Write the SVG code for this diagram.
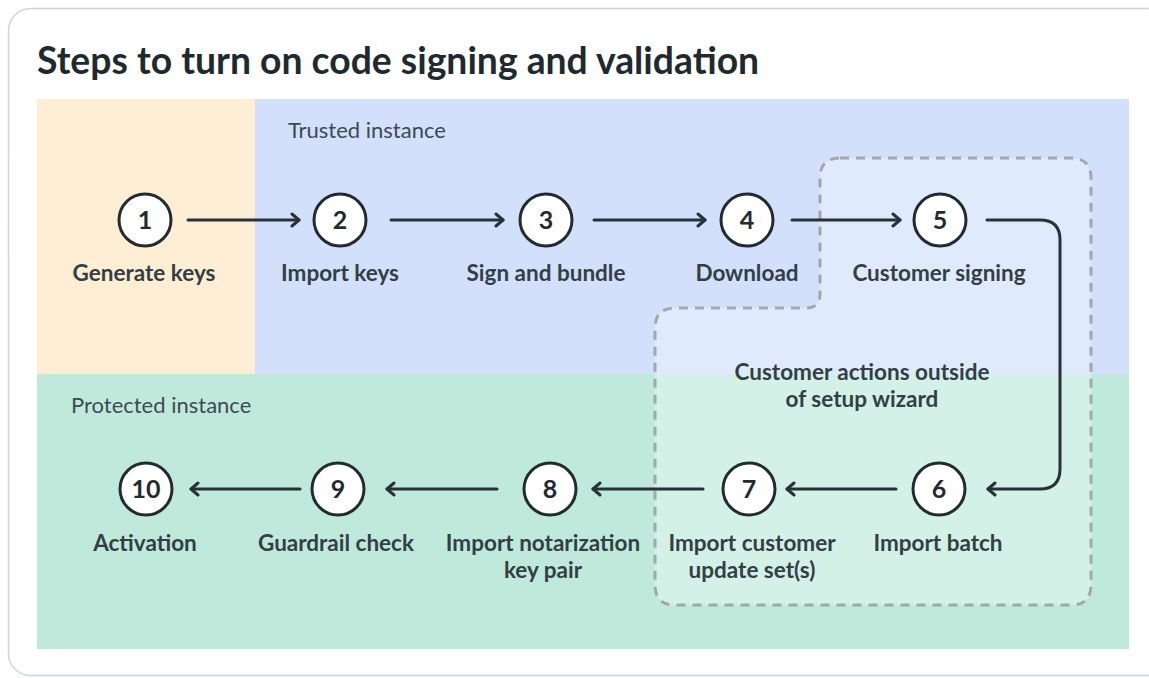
<svg xmlns="http://www.w3.org/2000/svg" width="1149" height="678" viewBox="0 0 1149 678">
<defs>
<style>
.lbl{font-family:Lato,"Liberation Sans",sans-serif;font-weight:700;font-size:22.5px;fill:#323f45;text-anchor:middle}
.num{font-family:Lato,"Liberation Sans",sans-serif;font-weight:700;font-size:25px;fill:#222c30;text-anchor:middle}
.reg{font-family:Lato,"Liberation Sans",sans-serif;font-size:22px;fill:#3d4a50}
.c{fill:#fff;stroke:#222c30;stroke-width:3}
.e{fill:none;stroke:#263238;stroke-width:3;stroke-linecap:round;stroke-linejoin:round}
</style>
<marker id="ah" viewBox="0 0 12 16" refX="10" refY="8" markerWidth="12" markerHeight="16" markerUnits="userSpaceOnUse" orient="auto">
<path d="M3 2 L10 8 L3 14" fill="none" stroke="#263238" stroke-width="3" stroke-linecap="round" stroke-linejoin="round"/>
</marker>
</defs>
<rect x="8.5" y="8.5" width="1160" height="667" rx="22" fill="#fff" stroke="#cfd4d6" stroke-width="1.5"/>
<text x="37" y="74" font-family="Lato,'Liberation Sans',sans-serif" font-weight="700" font-size="37.3" fill="#1f2a30">Steps to turn on code signing and validation</text>
<g id="lanes">
<rect x="37" y="99" width="218" height="275" fill="#feefd4"/>
<rect x="255" y="99" width="874" height="275" fill="#d2e0fc"/>
<rect x="37" y="374" width="1092" height="275" fill="#bfeadb"/>
<text class="reg" x="288" y="138">Trusted instance</text>
<text class="reg" x="71" y="413">Protected instance</text>
</g>
<g id="customer-group">
<path d="M840 158 H1071 Q1091 158 1091 178 V585 Q1091 605 1071 605 H675 Q655 605 655 585 V328 Q655 308 675 308 H806 Q820 308 820 294 V178 Q820 158 840 158 Z" fill="#fff" fill-opacity="0.32" stroke="#a3a7aa" stroke-width="3" stroke-dasharray="9 7"/>
<text class="lbl" x="862" y="380">Customer actions outside</text>
<text class="lbl" x="862" y="407">of setup wizard</text>
</g>
<g id="connectors">
<line class="e" x1="188" y1="220" x2="299" y2="220" marker-end="url(#ah)"/>
<line class="e" x1="391" y1="220" x2="503" y2="220" marker-end="url(#ah)"/>
<line class="e" x1="594" y1="220" x2="705" y2="220" marker-end="url(#ah)"/>
<line class="e" x1="792" y1="220" x2="900" y2="220" marker-end="url(#ah)"/>
<path class="e" d="M987 220 H1040 Q1060 220 1060 240 V469 Q1060 489 1040 489 H988" marker-end="url(#ah)"/>
<line class="e" x1="896" y1="489" x2="787" y2="489" marker-end="url(#ah)"/>
<line class="e" x1="703" y1="489" x2="593" y2="489" marker-end="url(#ah)"/>
<line class="e" x1="497" y1="489" x2="387" y2="489" marker-end="url(#ah)"/>
<line class="e" x1="300" y1="489" x2="191" y2="489" marker-end="url(#ah)"/>
</g>
<g id="n1"><circle class="c" cx="145" cy="220" r="26"/><text class="num" x="145" y="229">1</text><text class="lbl" x="144" y="281">Generate keys</text></g>
<g id="n2"><circle class="c" cx="340" cy="220" r="26"/><text class="num" x="340" y="229">2</text><text class="lbl" x="340" y="281">Import keys</text></g>
<g id="n3"><circle class="c" cx="546" cy="220" r="26"/><text class="num" x="546" y="229">3</text><text class="lbl" x="546" y="281">Sign and bundle</text></g>
<g id="n4"><circle class="c" cx="747" cy="220" r="26"/><text class="num" x="747" y="229">4</text><text class="lbl" x="747" y="281">Download</text></g>
<g id="n5"><circle class="c" cx="940" cy="220" r="26"/><text class="num" x="940" y="229">5</text><text class="lbl" x="939" y="281">Customer signing</text></g>
<g id="n6"><circle class="c" cx="939" cy="489" r="26"/><text class="num" x="939" y="498">6</text><text class="lbl" x="938" y="551">Import batch</text></g>
<g id="n7"><circle class="c" cx="749" cy="489" r="26"/><text class="num" x="749" y="498">7</text><text class="lbl" x="752" y="551">Import customer</text><text class="lbl" x="752" y="578">update set(s)</text></g>
<g id="n8"><circle class="c" cx="550" cy="489" r="26"/><text class="num" x="550" y="498">8</text><text class="lbl" x="543" y="551">Import notarization</text><text class="lbl" x="543" y="578">key pair</text></g>
<g id="n9"><circle class="c" cx="338" cy="489" r="26"/><text class="num" x="338" y="498">9</text><text class="lbl" x="336" y="551">Guardrail check</text></g>
<g id="n10"><circle class="c" cx="146" cy="489" r="26"/><text class="num" x="146" y="498">10</text><text class="lbl" x="145" y="551">Activation</text></g>
</svg>
